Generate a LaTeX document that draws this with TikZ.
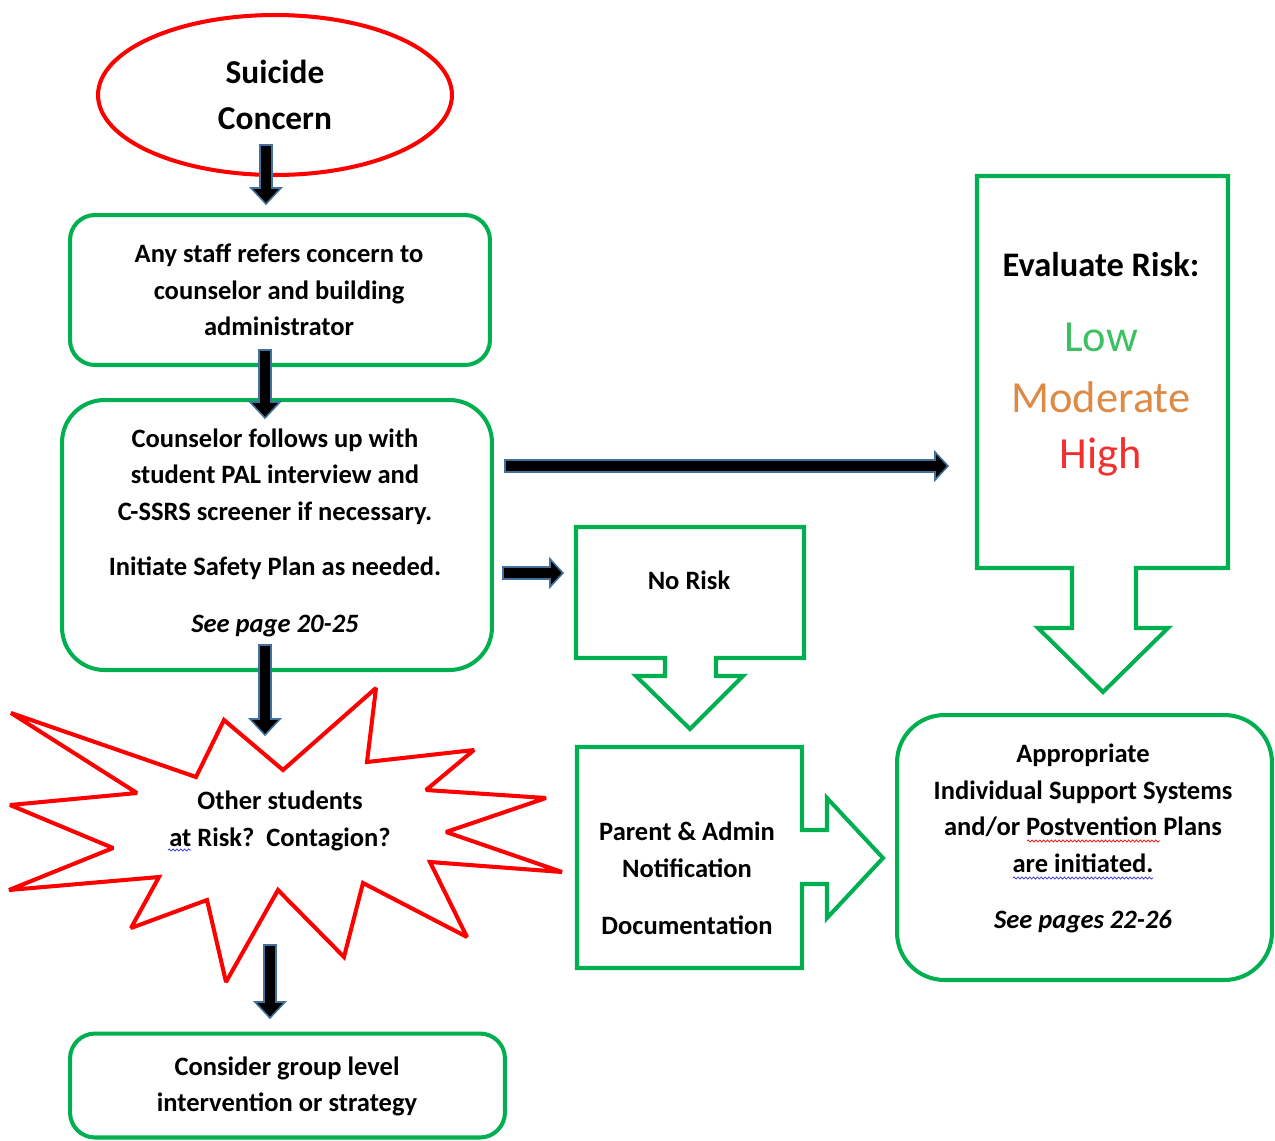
\documentclass[tikz,border=0pt]{standalone}
\usepackage{fontspec}
\setmainfont{Carlito}
\usetikzlibrary{decorations.pathmorphing,shapes.geometric}
\definecolor{ogreen}{HTML}{00B050}
\definecolor{ored}{HTML}{FF0000}
\definecolor{aline}{HTML}{41719C}
\definecolor{lowc}{HTML}{3CC062}
\definecolor{modc}{HTML}{DE8A45}
\definecolor{highc}{HTML}{F23030}
\definecolor{spellblue}{HTML}{3030E0}
\tikzset{
  gbox/.style={draw=ogreen, line width=2.3pt, inner sep=0pt},
  gshape/.style={draw=ogreen, line width=2.3pt, line join=miter},
  rshape/.style={draw=ored, line width=2.3pt, line join=miter, miter limit=2.5},
  blk/.style={fill=black, draw=aline, line width=0.9pt, line join=miter},
  txt/.style={font=\bfseries\fontsize{15.1}{20.8}\selectfont, align=center, inner sep=0pt},
  wavy/.style={decorate, decoration={snake, amplitude=0.6pt, segment length=2.2pt}, line width=0.4pt},
}
\newcommand\downarr[3]{%
  \filldraw[blk] ({#1-6},{#2}) -- ({#1+6},{#2}) -- ({#1+6},{#3-16}) -- ({#1+15},{#3-16})
   -- ({#1},{#3}) -- ({#1-15},{#3-16}) -- ({#1-6},{#3-16}) -- cycle;}
\newcommand\rightarr[3]{%
  \filldraw[blk] ({#2},{#1-6}) -- ({#3-13},{#1-6}) -- ({#3-13},{#1-14}) -- ({#3},{#1})
   -- ({#3-13},{#1+14}) -- ({#3-13},{#1+6}) -- ({#2},{#1+6}) -- cycle;}
\begin{document}
\begin{tikzpicture}[x=0.02cm,y=-0.02cm]
\useasboundingbox (0,0) rectangle (1275,1140);

% Suicide concern ellipse
\node[draw=ored, line width=2.3pt, ellipse, minimum width=7.08cm, minimum height=3.2cm,
      font=\bfseries\fontsize{19}{26.2}\selectfont, align=center, inner sep=0pt] (concern) at (275,95) {Suicide\\Concern};

% box 1
\node[gbox, rounded corners=0.5cm, minimum width=8.4cm, minimum height=3cm] (refer) at (280,290) {};
\node[txt] (refertxt) at (279,290) {Any staff refers concern to\\counselor and building\\administrator};

% box 2
\node[gbox, rounded corners=0.85cm, minimum width=8.6cm, minimum height=5.4cm] (counsel) at (277,535) {};
\node[txt] (counseltxt) at (275,533) {Counselor follows up with\\student PAL interview and\\C-SSRS screener if necessary.\\[10.5pt]Initiate Safety Plan as needed.\\[12pt]\textit{See page 20-25}};

% bottom box
\node[gbox, rounded corners=0.5cm, minimum width=8.7cm, minimum height=2.08cm] (group) at (287.5,1085.5) {};
\node[txt] (grouptxt) at (287,1086.5) {Consider group level\\intervention or strategy};

% right rounded box
\node[gbox, rounded corners=0.95cm, minimum width=7.5cm, minimum height=5.3cm] (support) at (1084.5,847.5) {};
\node[txt] (supporttxt) at (1083,838.5) {Appropriate\\Individual Support Systems\\and/or Postvention Plans\\are initiated.\\[11pt]\textit{See pages 22-26}};
\draw[wavy, ored] (1027,841) -- (1160,841);
\draw[wavy, spellblue] (1013,878) -- (1153,878);

% No Risk callout
\draw[gshape] (576,527) -- (804,527) -- (804,658) -- (716,658) -- (716,676) -- (743,676) -- (690,729)
  -- (636,676) -- (665,676) -- (665,658) -- (576,658) -- cycle;
\node[txt] (norisk) at (689,580) {No Risk};

% Evaluate risk callout
\draw[gshape] (977,176) -- (1228,176) -- (1228,568) -- (1136,568) -- (1136,628) -- (1168,628) -- (1103,692)
  -- (1038,628) -- (1072,628) -- (1072,568) -- (977,568) -- cycle;
\node[font=\bfseries\fontsize{19.6}{22}\selectfont, inner sep=0pt] (evaluate) at (1101,265) {Evaluate Risk:};
\node[font=\fontsize{25.3}{28}\selectfont, text=lowc, inner sep=0pt] (low) at (1101,337) {Low};
\node[font=\fontsize{25.3}{28}\selectfont, text=modc, inner sep=0pt] (moderate) at (1101,397) {Moderate};
\node[font=\fontsize{25.3}{28}\selectfont, text=highc, inner sep=0pt] (high) at (1101,457) {High};

% Parent & Admin callout
\draw[gshape] (577,747) -- (802,747) -- (802,830) -- (827,830) -- (827,798) -- (883,858) -- (827,918)
  -- (827,884) -- (802,884) -- (802,968) -- (577,968) -- cycle;
\node[txt] (parent) at (687,850) {Parent \& Admin\\Notification};
\node[txt] (doc) at (687,925) {Documentation};

% starburst
\draw[rshape] (11,713) -- (196,777) -- (224,720) -- (283,770) -- (376,688) -- (367,762) -- (474,750)
  -- (426,790) -- (546,798) -- (446,832) -- (562,872) -- (430,862) -- (467,937) -- (363,883)
  -- (344,957) -- (278,890) -- (226,982) -- (207,900) -- (131,928) -- (159,877) -- (9,890)
  -- (113,848) -- (10,805) -- (137,793) -- cycle;
\node[txt] (others) at (280,821) {Other students\\at Risk?~~Contagion?};
\draw[wavy, spellblue] (168,850) -- (191,850);

% block arrows
\downarr{266}{145}{204}
\downarr{265}{350}{418}
\downarr{265}{645}{735}
\downarr{270}{945}{1018}
\rightarr{466}{505}{948}
\rightarr{573}{503}{563}
\end{tikzpicture}
\end{document}
